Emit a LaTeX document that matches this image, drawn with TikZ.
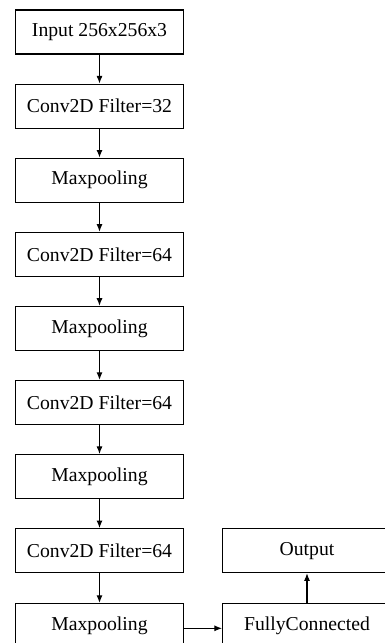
\documentclass[tikz,border=0pt]{standalone}
\usepackage{fontspec}
\setmainfont{Liberation Serif}
\usepackage{tikz}
\usetikzlibrary{shapes,arrows.meta}
\tikzstyle{block} = [rectangle, draw, line width=0.8pt, align=center, minimum width=4.22cm, minimum height=1.1cm, inner sep=0pt, font=\fontsize{14}{16}\selectfont]
\tikzstyle{arrow} = [draw, line width=0.8pt, -{Latex[length=1.9mm, width=1.5mm]}]

\begin{document}
\begin{tikzpicture}[x=0.025cm, y=-0.025cm]
\useasboundingbox (0, 0) rectangle (385, 643);
%% left column
\node [block] at (99.5, 32) (input) {Input 256x256x3};
\node [block] at (99.5, 106.1) (conv1) {Conv2D Filter=32};
\node [block] at (99.5, 180.2) (pool1) {Maxpooling};
\node [block] at (99.5, 254.3) (conv2) {Conv2D Filter=64};
\node [block] at (99.5, 328.4) (pool2) {Maxpooling};
\node [block] at (99.5, 402.5) (conv3) {Conv2D Filter=64};
\node [block] at (99.5, 476.6) (pool3) {Maxpooling};
\node [block] at (99.5, 550.7) (conv4) {Conv2D Filter=64};
\node [block] at (99.5, 625.5) (pool4) {Maxpooling};

\path [arrow] (input) to (conv1);
\path [arrow] (conv1) to (pool1);
\path [arrow] (pool1) to (conv2);
\path [arrow] (conv2) to (pool2);
\path [arrow] (pool2) to (conv3);
\path [arrow] (conv3) to (pool3);
\path [arrow] (pool3) to (conv4);
\path [arrow] (conv4) to (pool4);

%% right column
\node [block] at (307, 625.5) (fc) {FullyConnected};
\node [block] at (307, 550.7) (output) {Output};

\path [arrow] ([yshift=-2]pool4.east) to ([yshift=-2]fc.west);
\path [arrow] (fc) to (output);
\end{tikzpicture}
\end{document}
